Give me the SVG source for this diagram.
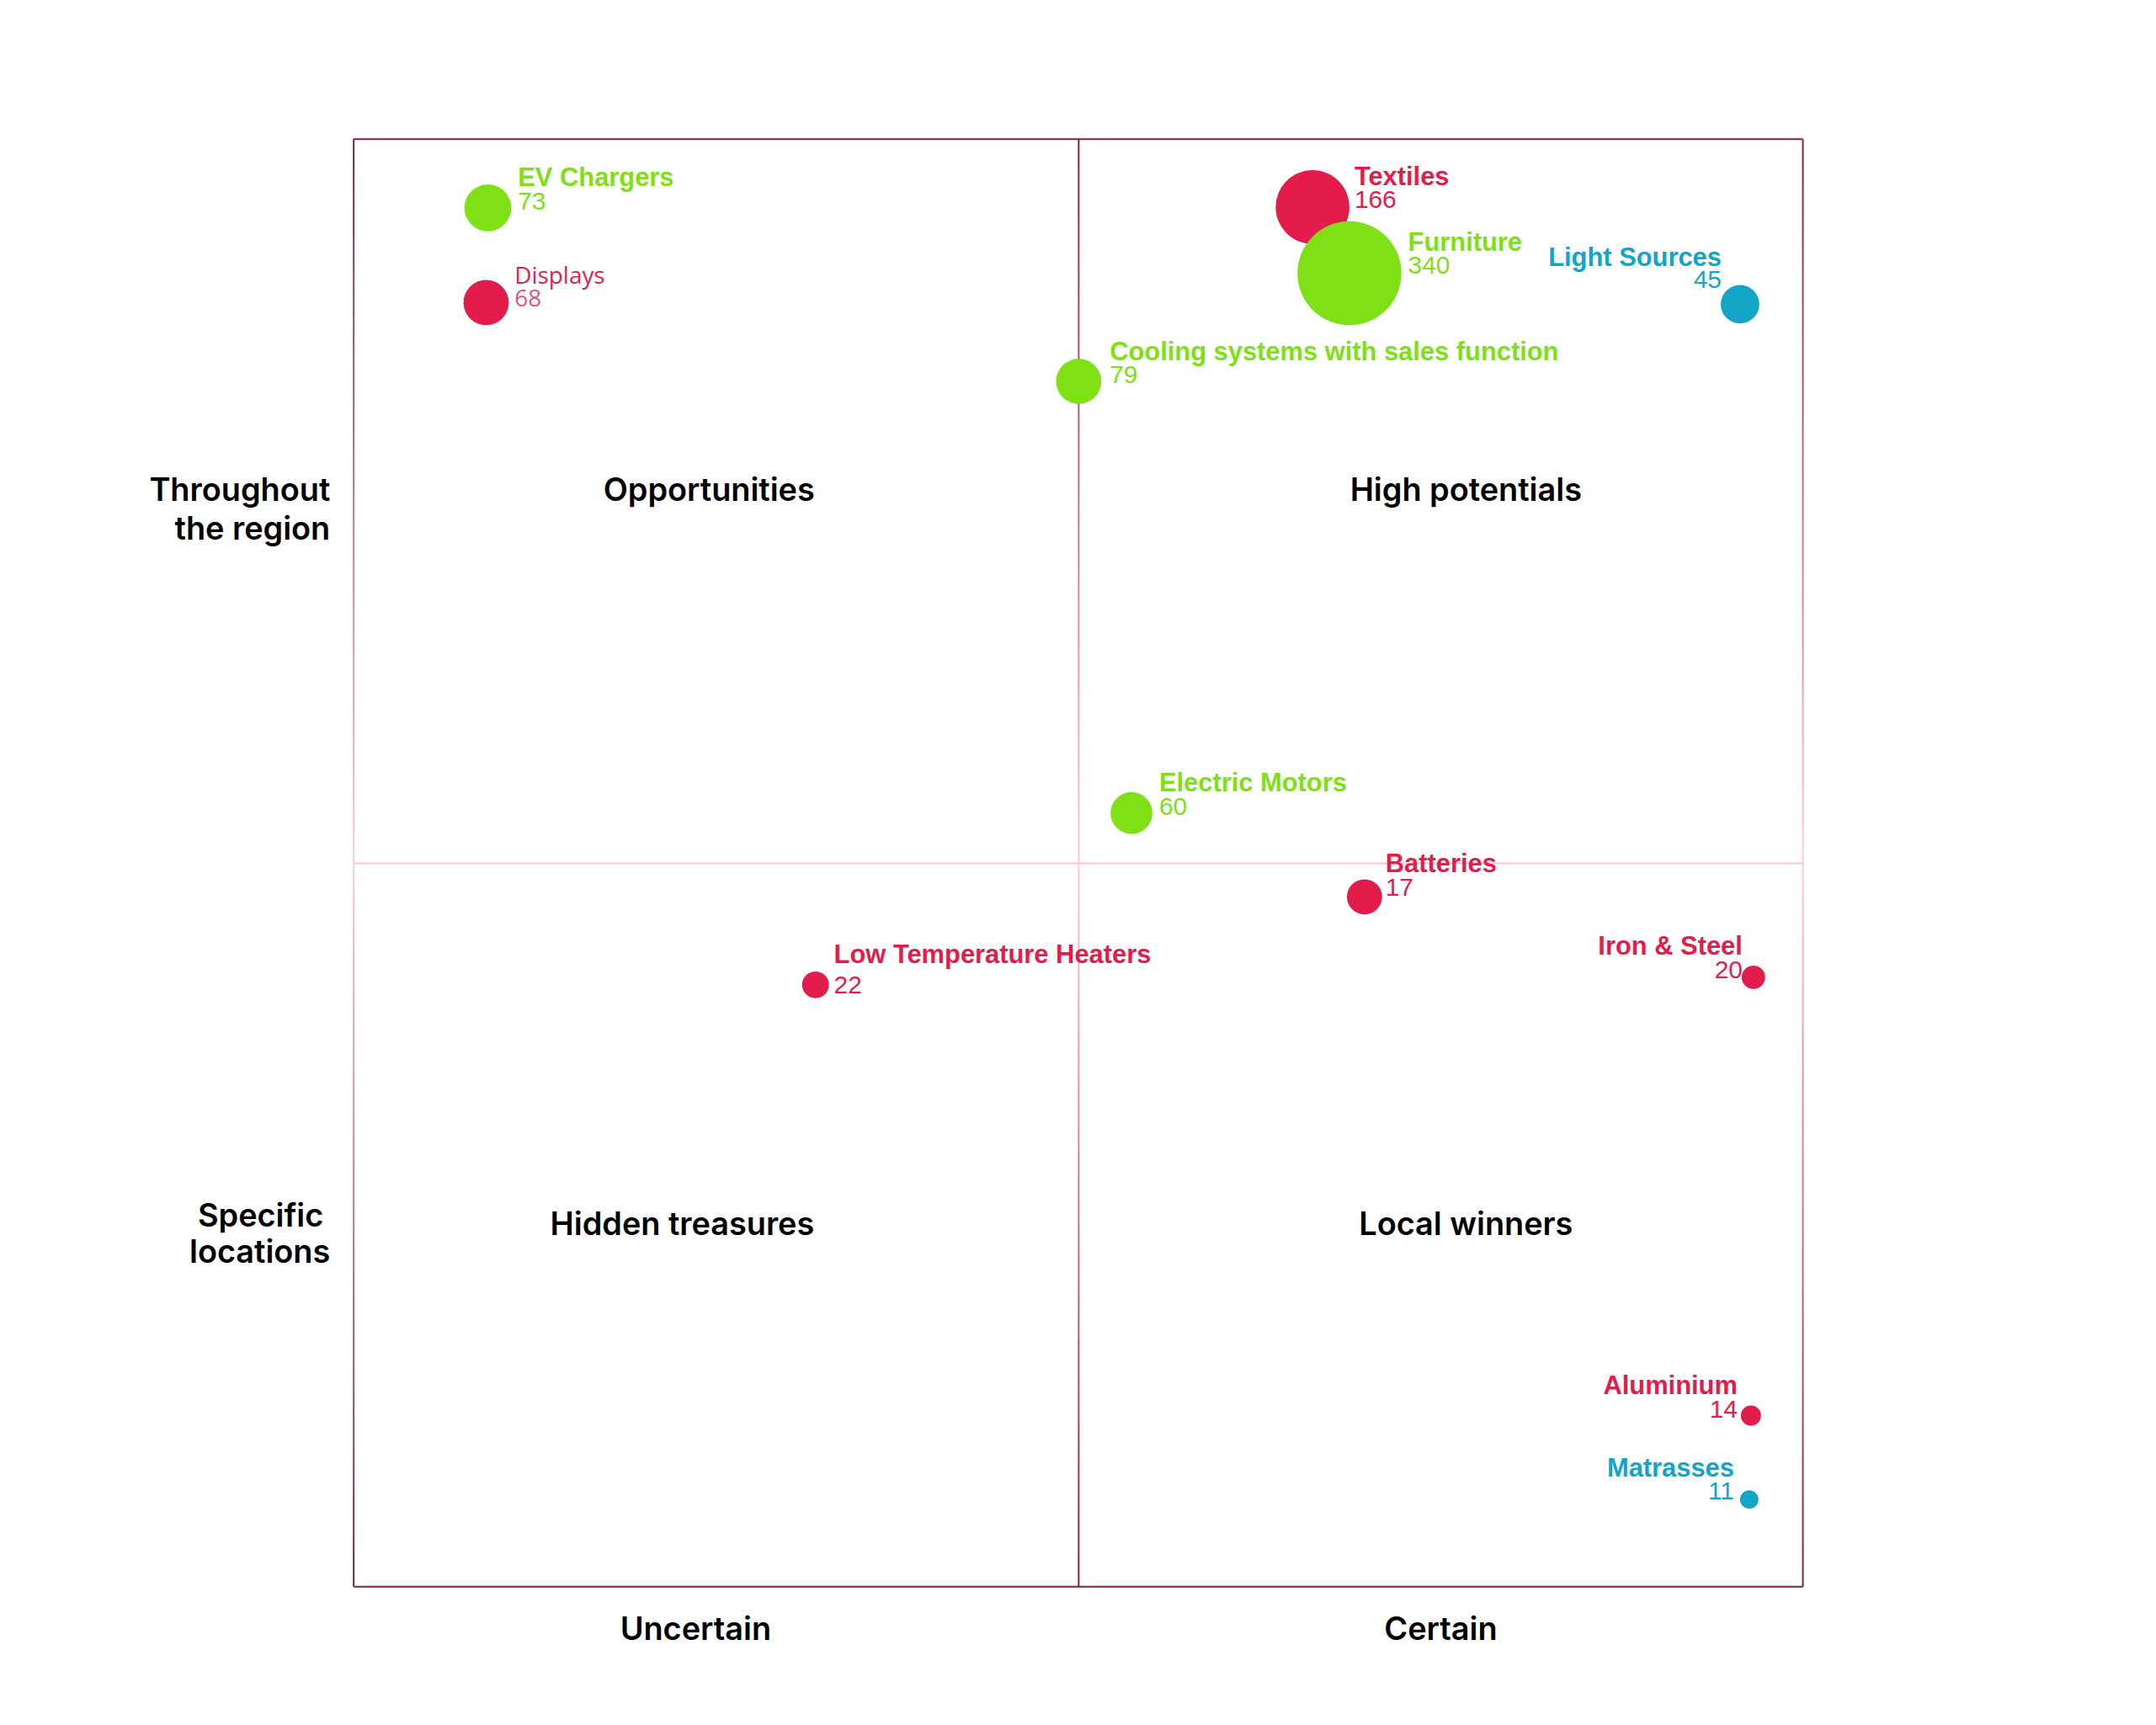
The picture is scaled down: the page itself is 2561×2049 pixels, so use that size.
<svg xmlns="http://www.w3.org/2000/svg" width="2561" height="2049" viewBox="0 0 2561 2049">
<style>
.lb{font-family:"Liberation Sans",Arial,sans-serif;font-weight:bold;font-size:31px}
.nm{font-family:"Liberation Sans",Arial,sans-serif;font-size:30px}
.q{font-family:Inter,"Liberation Sans",sans-serif;font-weight:600;font-size:38px;fill:#000}
.r{fill:#e21d4b}.g{fill:#7ee015}.b{fill:#13a5c6}
.e{text-anchor:end}.m{text-anchor:middle}
</style>
<defs>
<linearGradient id="vg" gradientUnits="userSpaceOnUse" x1="0" y1="166" x2="0" y2="1893">
<stop offset="0" stop-color="#7a1f45"/><stop offset="0.5" stop-color="#f8cfdc"/><stop offset="1" stop-color="#7a1f45"/>
</linearGradient>
</defs>
<rect width="2561" height="2049" fill="#fff"/>
<g transform="scale(0.9956)">
<g id="grid" fill="none" stroke-width="2">
<line x1="422" y1="166" x2="2151" y2="166" stroke="#7a1f45"/>
<line x1="422" y1="1893" x2="2151" y2="1893" stroke="#7a1f45"/>
<line x1="422" y1="166" x2="422" y2="1893" stroke="url(#vg)"/>
<line x1="2151" y1="166" x2="2151" y2="1893" stroke="url(#vg)"/>
<line x1="1287" y1="166" x2="1287" y2="1893" stroke="url(#vg)"/>
<line x1="422" y1="1030" x2="2151" y2="1030" stroke="#f5c6d4"/>
</g>
<g id="axes">
<text class="q e" x="394" y="598">Throughout</text>
<text class="q e" x="394" y="644">the region</text>
<text class="q e" x="386" y="1463">Specific</text>
<text class="q e" x="394" y="1507">locations</text>
<text class="q m" x="830" y="1957">Uncertain</text>
<text class="q m" x="1719" y="1957">Certain</text>
<text class="q m" x="846" y="598">Opportunities</text>
<text class="q m" x="1749" y="598">High potentials</text>
<text class="q m" x="814" y="1473">Hidden treasures</text>
<text class="q m" x="1749" y="1473">Local winners</text>
</g>
<g id="ev"><circle class="g" cx="582" cy="248" r="28"/><text class="lb g" x="618" y="222">EV Chargers</text><text class="nm g" x="618" y="250">73</text></g>
<g id="displays"><circle class="r" cx="580" cy="361" r="27"/><text class="r" style="font-family:'Open Sans',sans-serif;font-size:28px" x="614" y="338">Displays</text><text style="font-family:'Open Sans',sans-serif;font-size:28px;fill:#e0557a" x="614" y="366">68</text></g>
<g id="textiles"><circle class="r" cx="1566" cy="247" r="44"/><text class="lb r" x="1616" y="221">Textiles</text><text class="nm r" x="1616" y="248">166</text></g>
<g id="furniture"><circle class="g" cx="1610" cy="326" r="62"/><text class="lb g" x="1680" y="299">Furniture</text><text class="nm g" x="1680" y="326">340</text></g>
<g id="light"><circle class="b" cx="2076" cy="363" r="23"/><text class="lb b e" x="2054" y="317">Light Sources</text><text class="nm b e" x="2054" y="344">45</text></g>
<g id="cooling"><circle class="g" cx="1287" cy="455" r="27"/><text class="lb g" x="1324" y="430">Cooling systems with sales function</text><text class="nm g" x="1324" y="457">79</text></g>
<g id="motors"><circle class="g" cx="1350" cy="970" r="25"/><text class="lb g" x="1383" y="944">Electric Motors</text><text class="nm g" x="1383" y="972">60</text></g>
<g id="batteries"><circle class="r" cx="1628" cy="1070" r="21"/><text class="lb r" x="1653" y="1041">Batteries</text><text class="nm r" x="1653" y="1069">17</text></g>
<g id="heaters"><circle class="r" cx="973" cy="1175" r="16"/><text class="lb r" x="995" y="1149">Low Temperature Heaters</text><text class="nm r" x="995" y="1185">22</text></g>
<g id="iron"><circle class="r" cx="2092" cy="1166" r="14"/><text class="lb r e" x="2079" y="1139">Iron &amp; Steel</text><text class="nm r e" x="2079" y="1167">20</text></g>
<g id="aluminium"><circle class="r" cx="2089" cy="1689" r="12"/><text class="lb r e" x="2073" y="1663">Aluminium</text><text class="nm r e" x="2073" y="1691">14</text></g>
<g id="matrasses"><circle class="b" cx="2087" cy="1789" r="11"/><text class="lb b e" x="2069" y="1762">Matrasses</text><text class="nm b e" x="2069" y="1789">11</text></g>
</g>
</svg>
